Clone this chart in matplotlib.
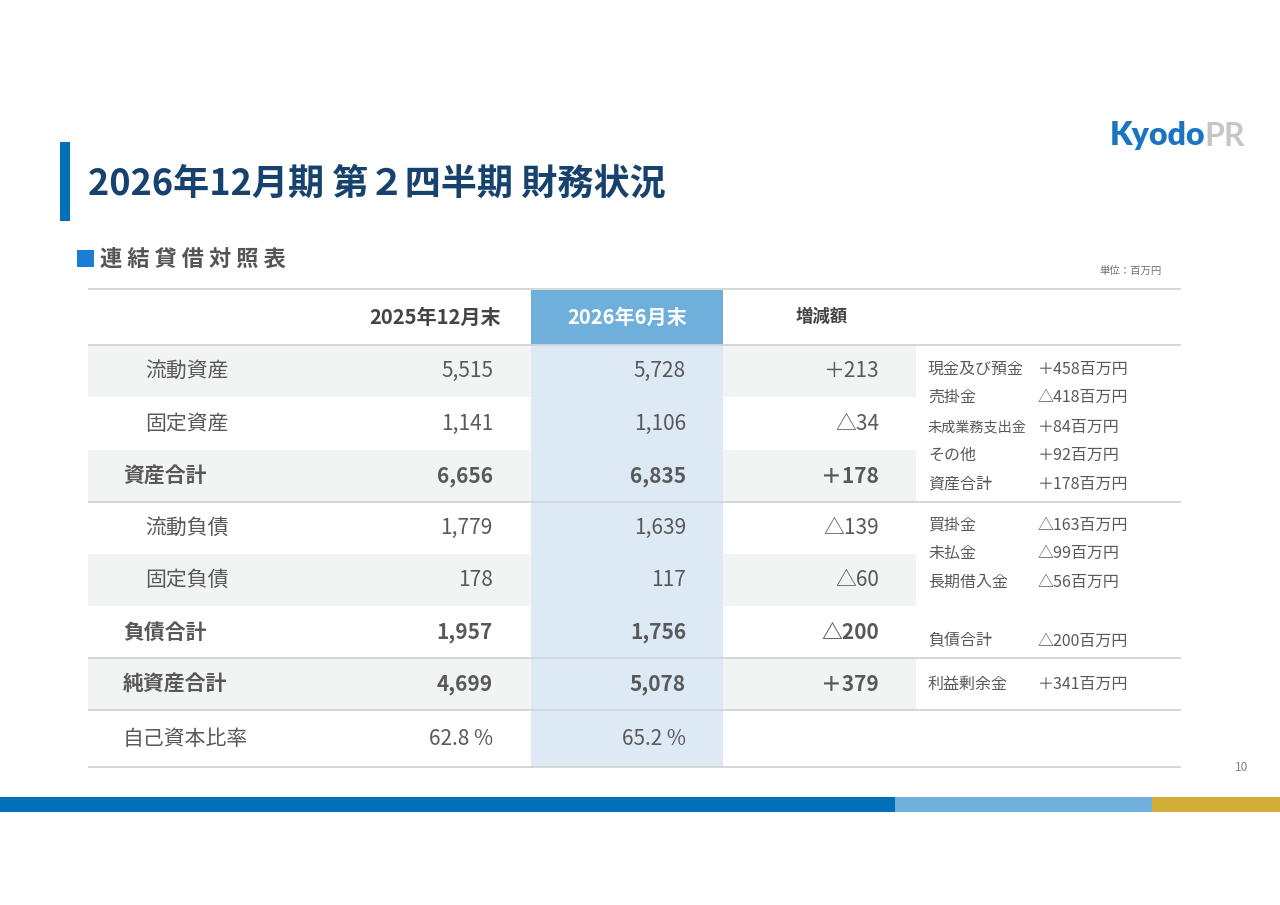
import matplotlib
matplotlib.use("Agg")
import matplotlib.pyplot as plt
from matplotlib.patches import Rectangle

plt.rcParams['font.family'] = ['Noto Sans CJK JP', 'DejaVu Sans']

# ---------------- data ----------------
title = "2026年12月期 第２四半期 財務状況"
subtitle = "連 結 貸 借 対 照 表"
unit_label = "単位：百万円"
col_headers = ["2025年12月末", "2026年6月末", "増減額"]
row_labels = ["流動資産", "固定資産", "資産合計", "流動負債", "固定負債",
              "負債合計", "純資産合計", "自己資本比率"]
values_2025 = [5515, 1141, 6656, 1779, 178, 1957, 4699]
values_2026 = [5728, 1106, 6835, 1639, 117, 1756, 5078]
changes = [213, -34, 178, -139, -60, -200, 379]
equity_ratio_2025 = 62.8
equity_ratio_2026 = 65.2
bold_rows = [2, 5, 6]
note_labels_assets = ["現金及び預金", "売掛金", "未成業務支出金", "その他", "資産合計"]
note_values_assets = [458, -418, 84, 92, 178]
note_labels_liab = ["買掛金", "未払金", "長期借入金", "負債合計"]
note_values_liab = [-163, -99, -56, -200]
note_labels_equity = ["利益剰余金"]
note_values_equity = [341]
page_number = "10"


def fmt_change(v):
    return ("＋" if v >= 0 else "△") + f"{abs(v):,}"


def fmt_note(v):
    return ("＋" if v >= 0 else "△") + f"{abs(v)}百万円"


# ---------------- figure ----------------
fig = plt.figure(figsize=(12.8, 9.05), dpi=100)
ax = fig.add_axes([0, 0, 1, 1])
ax.set_xlim(0, 1280)
ax.set_ylim(905, 0)
ax.axis('off')

TXT = "#595959"
LINE = "#d3d3d3"
GRAY_BG = "#f2f3f3"
BLUE_COL = "#dde9f5"
BLUE_HEAD = "#6eafdb"

# Title bar
ax.add_patch(Rectangle((60, 142), 10, 79, color="#0070b8", lw=0))
ax.text(88, 184, title, fontsize=26, fontweight='bold', color="#17426e",
        va='center', ha='left')

# Logo
ax.text(1205, 136, "Kyodo", fontsize=23, fontweight='heavy', color="#1a74c2",
        family=['Lato', 'DejaVu Sans'], va='center', ha='right')
ax.text(1204, 136, "PR", fontsize=23, fontweight='bold', color="#c6c6c6",
        family=['Lato', 'DejaVu Sans'], va='center', ha='left')

# Subtitle
ax.add_patch(Rectangle((77, 250), 17, 17, color="#1a7fd4", lw=0))
ax.text(100, 259, subtitle, fontsize=16, fontweight='bold', color="#555555",
        va='center', ha='left')
ax.text(1162, 271, unit_label, fontsize=7.5, color="#707070", va='center', ha='right')

# Table geometry
X0, X1 = 88, 1181
XN = 916
row_edges = [345, 397, 450, 502, 554, 606, 658, 710, 767]
head_top = 290

# shaded rows
for i in [0, 2, 4, 6]:
    ax.add_patch(Rectangle((X0, row_edges[i]), XN - X0, row_edges[i + 1] - row_edges[i],
                           color=GRAY_BG, lw=0))
# 2026 column
ax.add_patch(Rectangle((531, head_top), 192, 345 - head_top, color=BLUE_HEAD, lw=0))
ax.add_patch(Rectangle((531, 345), 192, 767 - 345, color=BLUE_COL, lw=0))

# lines
for y in [289, 345, 502, 658, 710, 767]:
    ax.plot([X0, X1], [y, y], color=LINE, lw=1.3, solid_capstyle='butt')

# headers
hy = 317
ax.text(435, hy, col_headers[0], fontsize=14.5, fontweight='bold', color="#444444",
        ha='center', va='center')
ax.text(627, hy, col_headers[1], fontsize=14.5, fontweight='bold', color="white",
        ha='center', va='center')
ax.text(822, hy, col_headers[2], fontsize=12.5, fontweight='bold', color="#444444",
        ha='center', va='center')

# rows
for i, lab in enumerate(row_labels):
    yc = (row_edges[i] + row_edges[i + 1]) / 2
    bold = i in bold_rows
    fw = 'bold' if bold else 'normal'
    lx = 123 if (bold or i == 7) else 145
    ax.text(lx, yc, lab, fontsize=15, fontweight=fw, color=TXT, ha='left', va='center')
    if i < 7:
        ax.text(493, yc, f"{values_2025[i]:,}", fontsize=15, fontweight=fw, color=TXT,
                ha='right', va='center')
        ax.text(686, yc, f"{values_2026[i]:,}", fontsize=15, fontweight=fw, color=TXT,
                ha='right', va='center')
        ax.text(879, yc, fmt_change(changes[i]), fontsize=15, fontweight=fw, color=TXT,
                ha='right', va='center')
    else:
        ax.text(493, yc, f"{equity_ratio_2025} %", fontsize=15, color=TXT,
                ha='right', va='center')
        ax.text(686, yc, f"{equity_ratio_2026} %", fontsize=15, color=TXT,
                ha='right', va='center')

# notes
NLX, NVX = 928, 1038
def draw_notes(labels, values, ys):
    for lab, val, y in zip(labels, values, ys):
        fs = 10.2 if len(lab) >= 7 else 11.5
        ax.text(NLX, y, lab, fontsize=fs, color=TXT, ha='left', va='center')
        ax.text(NVX, y, fmt_note(val), fontsize=11.5, color=TXT, ha='left', va='center')

draw_notes(note_labels_assets, note_values_assets, [369, 397, 427, 455, 484])
draw_notes(note_labels_liab, note_values_liab, [525, 553, 582, 641])
draw_notes(note_labels_equity, note_values_equity, [684])

# page number
ax.text(1248, 767, page_number, fontsize=8.5, color="#808080", ha='right', va='center')

# bottom bar
ax.add_patch(Rectangle((0, 797), 895, 15, color="#0070b8", lw=0))
ax.add_patch(Rectangle((895, 797), 257, 15, color="#70b0dc", lw=0))
ax.add_patch(Rectangle((1152, 797), 128, 15, color="#d4ad38", lw=0))

fig.savefig("out.png", dpi=100, facecolor="white")
